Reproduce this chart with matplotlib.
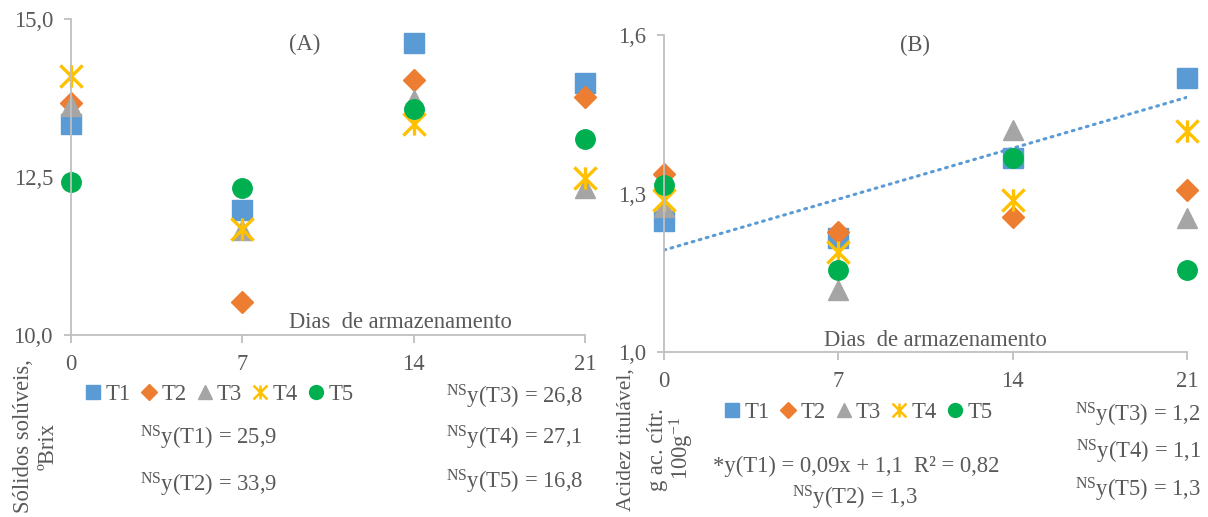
import matplotlib
matplotlib.use("Agg")
import matplotlib.pyplot as plt
import numpy as np
from matplotlib.path import Path
from matplotlib.lines import Line2D

plt.rcParams['font.family'] = 'Liberation Serif'
plt.rcParams['mathtext.fontset'] = 'custom'
plt.rcParams['mathtext.rm'] = 'Liberation Serif'
plt.rcParams['mathtext.it'] = 'Liberation Serif:italic'

days = [0, 7, 14, 21]
treatments = ['T1', 'T2', 'T3', 'T4', 'T5']

# (A) soluble solids, ºBrix
brix_t1 = [13.34, 11.98, 14.62, 13.99]
brix_t2 = [13.67, 10.52, 14.03, 13.77]
brix_t3 = [13.62, 11.66, 13.72, 12.33]
brix_t4 = [14.10, 11.68, 13.34, 12.48]
brix_t5 = [12.42, 12.33, 13.58, 13.10]

# (B) titratable acidity
acid_t1 = [1.248, 1.216, 1.367, 1.519]
acid_t2 = [1.337, 1.227, 1.256, 1.307]
acid_t3 = [1.274, 1.117, 1.420, 1.254]
acid_t4 = [1.288, 1.190, 1.288, 1.418]
acid_t5 = [1.316, 1.155, 1.367, 1.155]

colors = ['#5B9BD5', '#ED7D31', '#A5A5A5', '#FFC000', '#00B050']
star = Path([(-1, -1), (1, 1), (-1, 1), (1, -1), (0, -1), (0, 1)],
            [Path.MOVETO, Path.LINETO, Path.MOVETO, Path.LINETO,
             Path.MOVETO, Path.LINETO])
markers = ['s', 'D', '^', star, 'o']
sizes = [15, 11, 14, 16, 14]
axis_grey = '#BFBFBF'
txt_grey = '#595959'
FS = 16.3

W, H = 1208, 517


def fx(px):
    return px / W


def fy(py):
    return 1 - py / H


fig = plt.figure(figsize=(12.08, 5.17), dpi=100)
axA = fig.add_axes([fx(71), fy(335), 514 / W, 316 / H])
axB = fig.add_axes([fx(664), fy(352), 523 / W, 317 / H])


def style(ax, ylim, yticks, ylabels):
    ax.set_xlim(0, 21)
    ax.set_ylim(*ylim)
    ax.set_xticks(days)
    ax.set_xticklabels([str(d) for d in days])
    ax.set_yticks(yticks)
    ax.set_yticklabels(ylabels)
    for s in ['top', 'right']:
        ax.spines[s].set_visible(False)
    for s in ['left', 'bottom']:
        ax.spines[s].set_color(axis_grey)
        ax.spines[s].set_linewidth(1.3)
    ax.tick_params(axis='x', length=6, width=1.3, color=axis_grey,
                   labelsize=FS, labelcolor=txt_grey, pad=8)
    ax.tick_params(axis='y', length=5, width=1.3, color=axis_grey,
                   labelsize=FS, labelcolor=txt_grey, pad=8)
    ax.patch.set_alpha(0)


def scatter(ax, series):
    for vals, c, m, ms in zip(series, colors, markers, sizes):
        if m is star:
            ax.plot(days, vals, ls='none', marker=m, ms=ms, mfc='none',
                    mec=c, mew=2.4, clip_on=False)
        else:
            ax.plot(days, vals, ls='none', marker=m, ms=ms, color=c,
                    mec=c, clip_on=False)


def legend(ax, cx, cy):
    handles = []
    for c, m in zip(colors, markers):
        if m is star:
            h = Line2D([], [], ls='none', marker=m, ms=10, mfc='none',
                       mec=c, mew=1.8)
        else:
            h = Line2D([], [], ls='none', marker=m,
                       ms=8 if m == 'D' else 10, color=c)
        handles.append(h)
    ax.legend(handles, treatments, loc='center', ncol=5, frameon=False,
              bbox_to_anchor=(fx(cx), fy(cy)), bbox_transform=fig.transFigure,
              handlelength=0.6, handletextpad=0.25, columnspacing=0.5,
              fontsize=FS, labelcolor=txt_grey)


def vlabel(x, y, s, fs=FS):
    fig.text(fx(x), fy(y), s, rotation=90, ha='center', va='center',
             fontsize=fs, color=txt_grey)


# panel A
style(axA, (10, 15), [10, 12.5, 15], ['10,0', '12,5', '15,0'])
scatter(axA, [brix_t1, brix_t2, brix_t3, brix_t4, brix_t5])
axA.text((305 - 71) / 514, (335 - 44) / 316, '(A)',
         transform=axA.transAxes, ha='center', va='center', fontsize=FS,
         color=txt_grey)
axA.text((400 - 71) / 514, (335 - 322) / 316, 'Dias  de armazenamento',
         transform=axA.transAxes, ha='center', va='center', fontsize=FS,
         color=txt_grey)
legend(axA, 220, 394)
vlabel(24, 436, 'Sólidos solúveis,')
vlabel(48, 446, 'ºBrix')

# panel B
style(axB, (1.0, 1.6), [1.0, 1.3, 1.6], ['1,0', '1,3', '1,6'])
fit = np.polyfit(days, acid_t1, 1)
xs = np.array([0, 21])
axB.plot(xs, np.polyval(fit, xs), color='#5B9BD5', lw=2.2,
         ls=(0, (0.6, 1.8)), dash_capstyle='round', zorder=1)
scatter(axB, [acid_t1, acid_t2, acid_t3, acid_t4, acid_t5])
axB.text((915 - 664) / 523, (352 - 45) / 317, '(B)',
         transform=axB.transAxes, ha='center', va='center', fontsize=FS,
         color=txt_grey)
axB.text((935 - 664) / 523, (352 - 340) / 317, 'Dias  de armazenamento',
         transform=axB.transAxes, ha='center', va='center', fontsize=FS,
         color=txt_grey)
legend(axB, 859, 412)
vlabel(626, 440, 'Acidez titulável,', fs=15.6)
vlabel(657, 450, 'g ac. cítr.')
vlabel(682, 448, '100g$^{-1}$')

# equations
ns = r'$^{\mathrm{NS}}$'
eq_kw = dict(fontsize=FS, color=txt_grey, va='center')
fig.text(fx(209), fy(438), ns + 'y(T1) = 25,9', ha='center', **eq_kw)
fig.text(fx(209), fy(485), ns + 'y(T2) = 33,9', ha='center', **eq_kw)
fig.text(fx(583), fy(397), ns + 'y(T3) = 26,8', ha='right', **eq_kw)
fig.text(fx(583), fy(438), ns + 'y(T4) = 27,1', ha='right', **eq_kw)
fig.text(fx(583), fy(482), ns + 'y(T5) = 16,8', ha='right', **eq_kw)

fig.text(fx(856), fy(466), '*y(T1) = 0,09x + 1,1  R² = 0,82', ha='center',
         **eq_kw)
fig.text(fx(855), fy(498), ns + 'y(T2) = 1,3', ha='center', **eq_kw)
fig.text(fx(1201), fy(415), ns + 'y(T3) = 1,2', ha='right', **eq_kw)
fig.text(fx(1201), fy(452), ns + 'y(T4) = 1,1', ha='right', **eq_kw)
fig.text(fx(1201), fy(490), ns + 'y(T5) = 1,3', ha='right', **eq_kw)

fig.savefig('out.png', dpi=100)
